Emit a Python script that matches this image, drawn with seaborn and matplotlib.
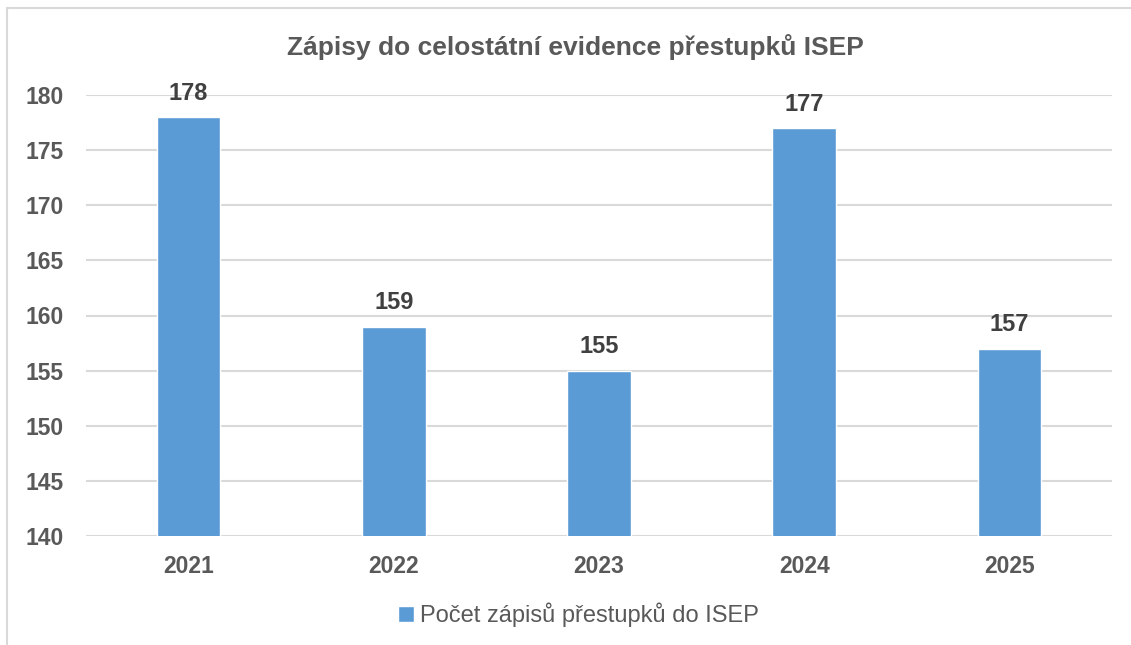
import matplotlib
matplotlib.use("Agg")
import matplotlib.pyplot as plt
from matplotlib.lines import Line2D
import seaborn as sns
import pandas as pd

years = ["2021", "2022", "2023", "2024", "2025"]
values = [178, 159, 155, 177, 157]
series_name = "Počet zápisů přestupků do ISEP"
title = "Zápisy do celostátní evidence přestupků ISEP"

sns.set_theme(style="white")
plt.rcParams["font.family"] = ["Liberation Sans", "DejaVu Sans"]

df = pd.DataFrame({"year": years, "value": values})

fig = plt.figure(figsize=(11.31, 6.45), dpi=100)
ax = fig.add_axes([86/1131, 1-536/645, (1112-86)/1131, (536-95)/645])

sns.barplot(data=df, x="year", y="value", color="#5B9BD5", width=0.31,
            saturation=1, ax=ax, label=series_name, zorder=3)

ax.set_ylim(140, 180)
ax.set_yticks(range(140, 181, 5))
ax.set_xlim(-0.5, len(years) - 0.5)
ax.grid(axis="y", color="#D9D9D9", linewidth=1.5, zorder=0)
ax.set_axisbelow(True)
for s in ax.spines.values():
    s.set_visible(False)
ax.set_xlabel("")
ax.set_ylabel("")
ax.tick_params(axis="both", length=0, labelsize=16.5, labelcolor="#595959")
ax.tick_params(axis="x", pad=14)
ax.tick_params(axis="y", pad=16)
for lab in ax.get_xticklabels():
    lab.set_fontweight("bold")
for lab in ax.get_yticklabels():
    lab.set_fontweight("bold")

for c in ax.containers:
    ax.bar_label(c, labels=[str(v) for v in values], padding=9,
                 fontsize=17, fontweight="bold", color="#404040")

fig.text(575/1131, 1-47/645, title, ha="center", va="center",
         fontsize=19, fontweight="bold", color="#595959")

leg = ax.legend(loc="center", bbox_to_anchor=(0.5 + 13/1131, 1-615/645),
                bbox_transform=fig.transFigure, frameon=False,
                fontsize=17, handlelength=0.65, handleheight=0.65,
                handletextpad=0.25, labelcolor="#595959")

# chart border (top and left visible)
fig.add_artist(Line2D([7/1131, 7/1131], [0, 1-8/645], transform=fig.transFigure,
                      color="#D9D9D9", linewidth=1.5))
fig.add_artist(Line2D([7/1131, 1], [1-8/645, 1-8/645], transform=fig.transFigure,
                      color="#D9D9D9", linewidth=1.5))

fig.savefig("out.png", dpi=100)
